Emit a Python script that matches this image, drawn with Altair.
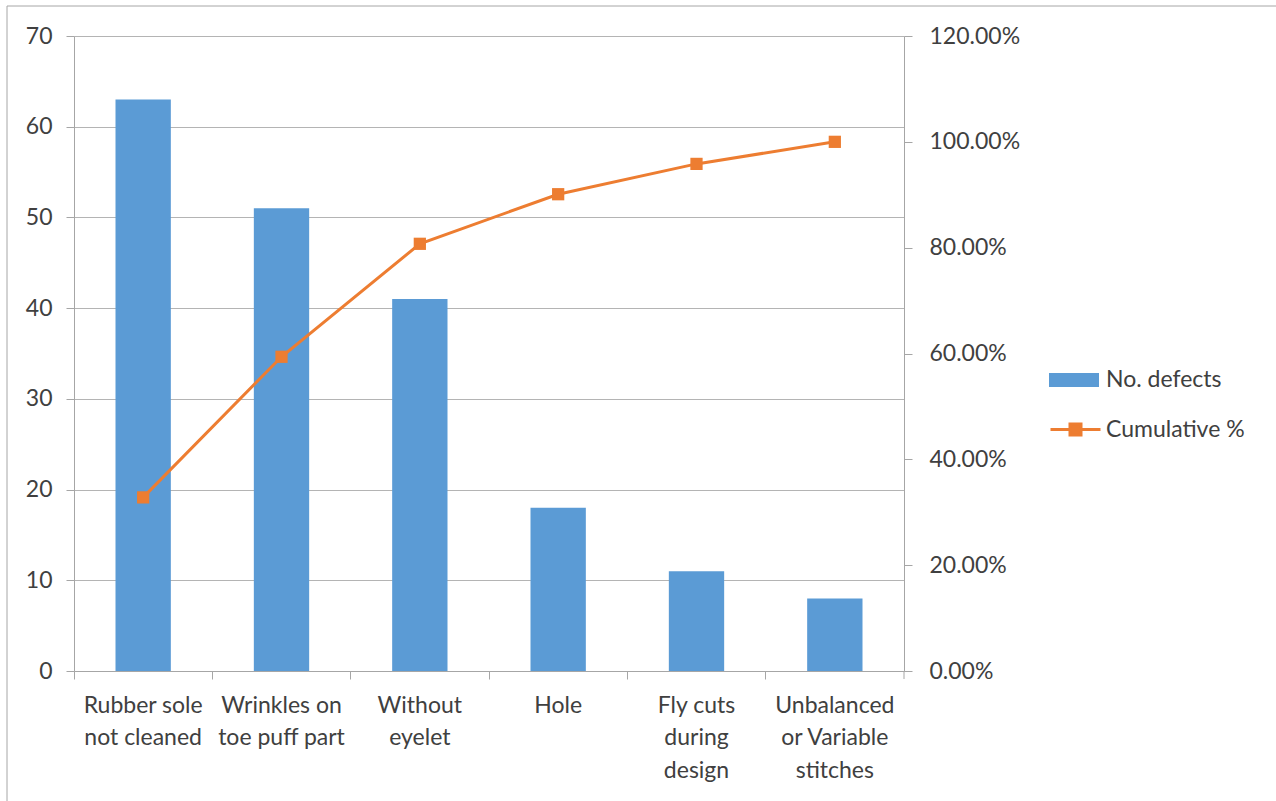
import altair as alt
import pandas as pd

categories = [
    "Rubber sole\nnot cleaned",
    "Wrinkles on\ntoe puff part",
    "Without\neyelet",
    "Hole",
    "Fly cuts\nduring\ndesign",
    "Unbalanced\nor Variable\nstitches",
]
defects = [63, 51, 41, 18, 11, 8]
cumulative = [0.3281, 0.5938, 0.8073, 0.9010, 0.9583, 1.0]

df = pd.DataFrame({
    "cat": categories,
    "defects": defects,
    "cum": cumulative,
    "s1": ["No. defects"] * len(categories),
    "s2": ["Cumulative %"] * len(categories),
})

FONT = "Lato"
FS = 23
TXT = "#404040"
AX = "#a6a6a6"

x_enc = alt.X(
    "cat:N", sort=categories,
    scale=alt.Scale(paddingInner=0, paddingOuter=0),
    axis=alt.Axis(
        title=None, labelAngle=0, tickSize=8, bandPosition=0,
        labelPadding=15, labelFontSize=FS, labelLineHeight=32.5,
        labelExpr="split(datum.label, '\\n')", labelColor=TXT,
        domainColor=AX, tickColor=AX, labelFont=FONT, grid=False,
    ),
)

base = alt.Chart(df)

bars = base.mark_bar(width=alt.RelativeBandSize(0.4)).encode(
    x=x_enc,
    y=alt.Y(
        "defects:Q",
        scale=alt.Scale(domain=[0, 70], nice=False),
        axis=alt.Axis(
            title=None, orient="left", values=[0, 10, 20, 30, 40, 50, 60, 70],
            tickSize=8, labelPadding=14, labelFontSize=FS, labelColor=TXT,
            labelFont=FONT, grid=True, gridColor="#b4b4b4",
            domainColor=AX, tickColor=AX,
        ),
    ),
    color=alt.Color(
        "s1:N",
        scale=alt.Scale(domain=["No. defects"], range=["#5B9BD5"]),
        legend=alt.Legend(
            title=None, orient="none", legendX=975, legendY=319,
            symbolType="M-1,-0.28H1V0.28H-1Z", symbolSize=2500,
            symbolStrokeWidth=0, symbolOpacity=1,
            labelFontSize=FS, labelColor=TXT, labelFont=FONT, labelOffset=7,
        ),
    ),
)

line = base.mark_line(
    strokeWidth=3,
    point=alt.OverlayMarkDef(shape="square", size=150, filled=True,
                             fill="#ED7D31", strokeWidth=0),
).encode(
    x=alt.X("cat:N", sort=categories),
    y=alt.Y(
        "cum:Q",
        scale=alt.Scale(domain=[0, 1.2], nice=False),
        axis=alt.Axis(
            title=None, orient="right", format=".2%",
            values=[0, 0.2, 0.4, 0.6, 0.8, 1.0, 1.2],
            tickSize=8, labelPadding=17, labelFontSize=FS, labelColor=TXT,
            labelFont=FONT, grid=False, domainColor=AX, tickColor=AX,
        ),
    ),
    stroke=alt.Stroke(
        "s2:N",
        scale=alt.Scale(domain=["Cumulative %"], range=["#ED7D31"]),
        legend=alt.Legend(
            title=None, orient="none", legendX=975, legendY=367,
            symbolType="M-1,0H1M-0.22,-0.22H0.22V0.22H-0.22Z", symbolSize=2500,
            symbolStrokeWidth=3, symbolFillColor="#ED7D31",
            labelFontSize=FS, labelColor=TXT, labelFont=FONT, labelOffset=4,
        ),
    ),
)

one = alt.Chart(pd.DataFrame({"k": [0]}))
border = one.mark_rect(filled=False, stroke="#a6a6a6", strokeWidth=1).encode(
    x=alt.value(-67), x2=alt.value(1215), y=alt.value(-30), y2=alt.value(790)
)
end_tick = one.mark_rule(color=AX, strokeWidth=1).encode(
    x=alt.value(830), y=alt.value(635), y2=alt.value(643)
)

chart = alt.layer(border, bars, line, end_tick).resolve_scale(
    y="independent"
).properties(
    width=830, height=635,
    autosize=alt.AutoSizeParams(type="none"),
    padding={"left": 74, "top": 36, "right": 372, "bottom": 130},
    background="white",
).configure_view(stroke=None)

chart.save("out.html", embed_options={"renderer": "svg", "actions": False})
